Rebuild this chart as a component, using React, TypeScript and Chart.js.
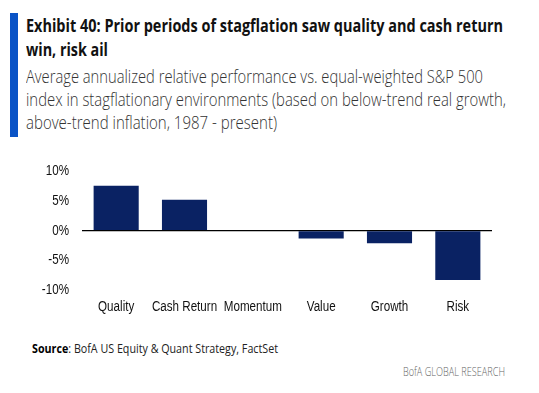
import React, { useEffect, useLayoutEffect, useRef } from "react";
import { Chart, registerables } from "chart.js";
Chart.register(...registerables);

const categories = ["Quality", "Cash Return", "Momentum", "Value", "Growth", "Risk"];
const values = [7.6, 5.2, 0, -1.3, -2.1, -8.3];
const yMin = -10;
const yMax = 10;
const yStep = 5;
const titleLines = ["Exhibit 40: Prior periods of stagflation saw quality and cash return", "win, risk ail"];
const subtitleLines = [
  "Average annualized relative performance vs. equal-weighted S&P 500",
  "index in stagflationary environments (based on below-trend real growth,",
  "above-trend inflation, 1987 - present)",
];
const sourceLabel = "Source";
const sourceText = ": BofA US Equity & Quant Strategy, FactSet";
const brandText = "BofA GLOBAL RESEARCH";

const CHART_FONT = "'Liberation Sans', Arial, sans-serif";
const TEXT_FONT = "'Open Sans', 'Noto Sans', sans-serif";
const CONDENSE = 0.83;

// Draws the library's own text with a narrower (Arial Narrow-like) glyph width.
const condensePlugin = {
  id: "condenseText",
  beforeDraw(chart: any) {
    const ctx = chart.ctx as any;
    if (ctx.__origFillText) return;
    const orig = ctx.fillText;
    ctx.__origFillText = orig;
    ctx.fillText = function (text: string, x: number, y: number, maxWidth?: number) {
      this.save();
      this.translate(x, y);
      this.scale(CONDENSE, 1);
      if (maxWidth === undefined || maxWidth === null) orig.call(this, text, 0, 0);
      else orig.call(this, text, 0, 0, maxWidth / CONDENSE);
      this.restore();
    };
  },
  afterDraw(chart: any) {
    const ctx = chart.ctx as any;
    if (ctx.__origFillText) {
      ctx.fillText = ctx.__origFillText;
      delete ctx.__origFillText;
    }
  },
};

function FitLine(props: { children: React.ReactNode; width: number; top: number; left: number; style?: React.CSSProperties }) {
  const ref = useRef<HTMLSpanElement>(null);
  useLayoutEffect(() => {
    const fit = () => {
      const el = ref.current;
      if (!el) return;
      el.style.transform = "none";
      const w = el.getBoundingClientRect().width;
      if (w > 0) el.style.transform = `scaleX(${props.width / w})`;
    };
    fit();
    if ((document as any).fonts) (document as any).fonts.ready.then(fit);
  }, [props.width]);
  return (
    <span
      ref={ref}
      style={{
        position: "absolute",
        left: props.left,
        top: props.top,
        whiteSpace: "nowrap",
        display: "inline-block",
        transformOrigin: "0 0",
        ...props.style,
      }}
    >
      {props.children}
    </span>
  );
}

export default function App() {
  const canvasRef = useRef<HTMLCanvasElement>(null);

  useEffect(() => {
    if (!canvasRef.current) return;
    const chart = new Chart(canvasRef.current, {
      type: "bar",
      data: {
        labels: categories,
        datasets: [
          {
            data: values,
            backgroundColor: "#0A2263",
            borderWidth: 0,
            barPercentage: 0.66,
            categoryPercentage: 1.0,
          },
        ],
      },
      plugins: [condensePlugin],
      options: {
        animation: false,
        responsive: false,
        maintainAspectRatio: false,
        layout: { padding: { top: 18, right: 47, left: 0, bottom: 0 } },
        plugins: { legend: { display: false }, tooltip: { enabled: false } },
        scales: {
          x: {
            grid: { display: false },
            border: { display: false },
            ticks: {
              padding: 1,
              maxRotation: 0,
              autoSkip: false,
              color: "#111",
              font: { family: CHART_FONT, size: 14 },
            },
            afterFit: (s: any) => {
              s.height = 30;
            },
          },
          y: {
            min: yMin,
            max: yMax,
            border: { display: false },
            grid: {
              drawTicks: false,
              lineWidth: 1.3,
              color: (ctx: any) => (ctx.tick && ctx.tick.value === 0 ? "#000" : "rgba(0,0,0,0)"),
            },
            ticks: {
              stepSize: yStep,
              padding: 13,
              color: "#111",
              font: { family: CHART_FONT, size: 14 },
              callback: (v: any) => `${v}%`,
            },
            afterFit: (s: any) => {
              s.width = 82;
            },
          },
        },
      },
    });
    return () => chart.destroy();
  }, []);

  return (
    <div style={{ position: "fixed", left: 0, top: 0, width: 539, height: 393, background: "#fff", overflow: "hidden" }}>
      <div style={{ position: "absolute", left: 10, top: 13, width: 8, height: 124, background: "#0A53C6" }} />
      <FitLine left={26} top={14} width={477} style={{ font: `700 17px/24px ${TEXT_FONT}`, color: "#111" }}>
        {titleLines[0]}
      </FitLine>
      <FitLine left={26} top={38} width={82} style={{ font: `700 17px/24px ${TEXT_FONT}`, color: "#111" }}>
        {titleLines[1]}
      </FitLine>
      <FitLine left={26} top={64.5} width={457} style={{ font: `300 18px/23px ${TEXT_FONT}`, color: "#333" }}>
        {subtitleLines[0]}
      </FitLine>
      <FitLine left={26} top={87.5} width={480} style={{ font: `300 18px/23px ${TEXT_FONT}`, color: "#333" }}>
        {subtitleLines[1]}
      </FitLine>
      <FitLine left={26} top={110.5} width={251} style={{ font: `300 18px/23px ${TEXT_FONT}`, color: "#333" }}>
        {subtitleLines[2]}
      </FitLine>
      <canvas ref={canvasRef} width={539} height={170} style={{ position: "absolute", left: 0, top: 150, width: 539, height: 170 }} />
      <FitLine left={32} top={341} width={246} style={{ font: `400 12px/16px ${TEXT_FONT}`, color: "#222" }}>
        <b style={{ fontWeight: 700, color: "#000" }}>{sourceLabel}</b>
        {sourceText}
      </FitLine>
      <FitLine left={403} top={364} width={102} style={{ font: `300 12px/16px ${TEXT_FONT}`, color: "#666" }}>
        {brandText}
      </FitLine>
    </div>
  );
}
